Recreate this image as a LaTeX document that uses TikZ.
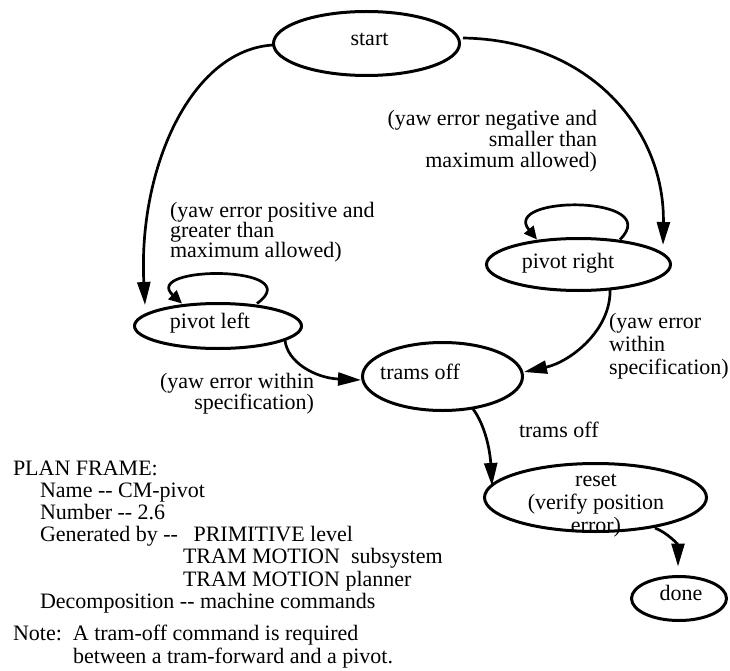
\documentclass[tikz,border=0pt]{standalone}
\usepackage{fontspec}
\setmainfont{Liberation Serif}
\usetikzlibrary{arrows.meta,shapes.geometric,calc}

% stacked text lines with a fixed baseline distance; the box baseline is the first line
\newcommand\linesL[2]{\vtop{\baselineskip=#1\lineskiplimit=-40pt\halign{##\hfil\cr#2\crcr}}}
\newcommand\linesR[2]{\vtop{\baselineskip=#1\lineskiplimit=-40pt\halign{\hfil##\cr#2\crcr}}}
\newcommand\linesC[2]{\vtop{\baselineskip=#1\lineskiplimit=-40pt\halign{\hfil##\hfil\cr#2\crcr}}}

\begin{document}
\begin{tikzpicture}[x=1pt,y=-1pt,
  font=\fontsize{22}{22}\selectfont,
  state/.style 2 args={draw, ellipse, line width=3pt, inner sep=0pt,
    minimum width=#1, minimum height=#2},
  txt/.style={inner sep=0pt, outer sep=0pt},
  conn/.style={line width=2.7pt, -{Triangle[length=23pt,width=13pt]}},
  selfarc/.style={line width=2.7pt, -{Triangle[length=13pt,width=12pt]}}]

\useasboundingbox (0,0) rectangle (730,671);

% states
\node[state={186pt}{64pt}] (start) at (366.5,43.5) {};
\node[state={167pt}{45pt}] (pl) at (218,326) {};
\node[state={184pt}{52pt}] (pr) at (578.5,264.5) {};
\node[state={160pt}{68pt}] (to) at (442.5,376.5) {};
\node[state={222pt}{68pt}] (reset) at (595.5,497.5) {};
\node[state={95pt}{44pt}] (done) at (679,598.5) {};

% state names
\node[txt, anchor=base] (startT) at (369.5,46) {start};
\node[txt, anchor=base] (plT) at (210,328) {pivot left};
\node[txt, anchor=base] (prT) at (568,268) {pivot right};
\node[txt, anchor=base] (toT) at (420,379) {trams off};
\node[txt, anchor=base] (resetT) at (596,486)
  {\linesC{23pt}{reset\cr(verify position\cr error)}};
\node[txt, anchor=base] (doneT) at (681,600) {done};

% transitions
\draw[conn] ($(start)+(-93.5,1.5)$) .. controls (190,50) and (138,170) .. ($(pl)+(-73,-21)$);
\draw[conn] ($(start)+(96.5,-5.5)$) .. controls (590,40) and (665,130) .. ($(pr)+(84.5,-19.5)$);
\draw[selfarc] ($(pr)+(41.5,-25)$) .. controls (665,195) and (500,195) .. ($(pr)+(-41.5,-25)$);
\draw[selfarc] ($(pl)+(39,-22.5)$) .. controls (310,265) and (140,265) .. ($(pl)+(-36,-22.5)$);
\draw[conn] ($(pl)+(67,14)$) .. controls (287,362) and (315,378) .. ($(to)+(-81.5,3.5)$);
\draw[conn] ($(pr)+(31.5,23.5)$) .. controls (612,330) and (570,362) .. ($(to)+(81.5,-4.5)$);
\draw[conn] ($(to)+(30.5,32.5)$) .. controls (485,425) and (490,450) .. ($(reset)+(-103.5,-11.5)$);
\draw[conn] ($(reset)+(59.5,30.5)$) .. controls (668,533) and (678,545) .. ($(done)+(-1,-32)$);

% transition conditions
\node[txt, anchor=base east] (negL) at (597,126)
  {\linesR{21pt}{(yaw error negative and\cr smaller than\cr maximum allowed)}};
\node[txt, anchor=base west] (posL) at (170,217)
  {\linesL{20pt}{(yaw error positive and\cr greater than\cr maximum allowed)}};
\node[txt, anchor=base east] (inL) at (314,388)
  {\linesR{21pt}{(yaw error within\cr specification)}};
\node[txt, anchor=base west] (inR) at (609,328)
  {\linesL{23pt}{(yaw error\cr within\cr specification)}};
\node[txt, anchor=base west] (offL) at (519,437) {trams off};

% plan frame notes
\node[txt, anchor=base west] (plan) at (13,475)
  {\linesL{22.2pt}{PLAN FRAME:\cr
   \kern27pt Name {-}{-} CM-pivot\cr
   \kern27pt Number {-}{-} 2.6\cr
   \kern27pt Generated by {-}{-} \kern10pt PRIMITIVE level\cr
   \kern170pt TRAM MOTION\ \ subsystem\cr
   \kern170pt TRAM MOTION planner\cr
   \kern27pt Decomposition {-}{-} machine commands}};
\node[txt, anchor=base west] (note) at (13,640)
  {\linesL{23pt}{Note:\ \ A tram-off command is required\cr
   \kern60pt between a tram-forward and a pivot.}};
\end{tikzpicture}
\end{document}
